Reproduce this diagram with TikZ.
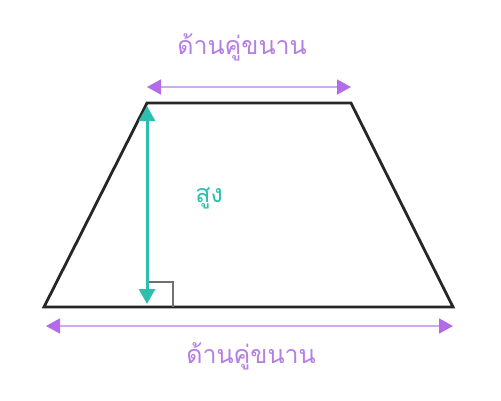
\documentclass[tikz,border=0pt]{standalone}
\usepackage{fontspec}
\newfontfamily\thaifont[Script=Thai]{Loma}
\usetikzlibrary{arrows.meta}
\definecolor{purp}{HTML}{B36BE8}
\definecolor{purpline}{HTML}{D2A8F0}
\definecolor{purptext}{HTML}{B57EE2}
\definecolor{tealc}{HTML}{2CBFAE}
\definecolor{graym}{HTML}{707070}
\tikzset{
  shape line/.style={line width=2.8pt, black!85, line join=miter},
  par arrow/.style={line width=1.8pt, purpline, {Triangle[length=14pt,width=15pt,fill=purp,color=purp]}-{Triangle[length=14pt,width=15pt,fill=purp,color=purp]}},
  height arrow/.style={line width=3pt, tealc, {Triangle[length=15pt,width=16pt]}-{Triangle[length=15pt,width=16pt]}},
  lbl/.style={font=\thaifont\fontsize{25}{28}\selectfont, text=purptext, inner sep=0pt},
}
\begin{document}
\begin{tikzpicture}[x=1pt,y=-1pt]
\useasboundingbox (0,0) rectangle (501,400);
\coordinate (tl) at (147,103);
\coordinate (tr) at (351,103);
\coordinate (bl) at (44,307);
\coordinate (br) at (453,307);
\draw[shape line] (bl) -- (tl) -- (tr) -- (br) -- cycle;
% right angle marker
\coordinate (ra1) at (147,282);
\coordinate (ra2) at (173,282);
\coordinate (ra3) at (173,307);
\draw[graym, line width=1.3pt] (ra1) -- (ra2) -- (ra3);
% height arrow
\coordinate (h1) at (147,106);
\coordinate (h2) at (147,304);
\draw[height arrow] (h1) -- (h2);
\node[lbl, text=tealc] (hlabel) at (209,198) {สูง};
% top parallel side
\coordinate (t1) at (147,87);
\coordinate (t2) at (351,87);
\draw[par arrow] (t1) -- (t2);
\node[lbl] (toplabel) at (242,47) {ด้านคู่ขนาน};
% bottom parallel side
\coordinate (b1) at (46,326);
\coordinate (b2) at (453,326);
\draw[par arrow] (b1) -- (b2);
\node[lbl] (botlabel) at (251,356) {ด้านคู่ขนาน};
\end{tikzpicture}
\end{document}
